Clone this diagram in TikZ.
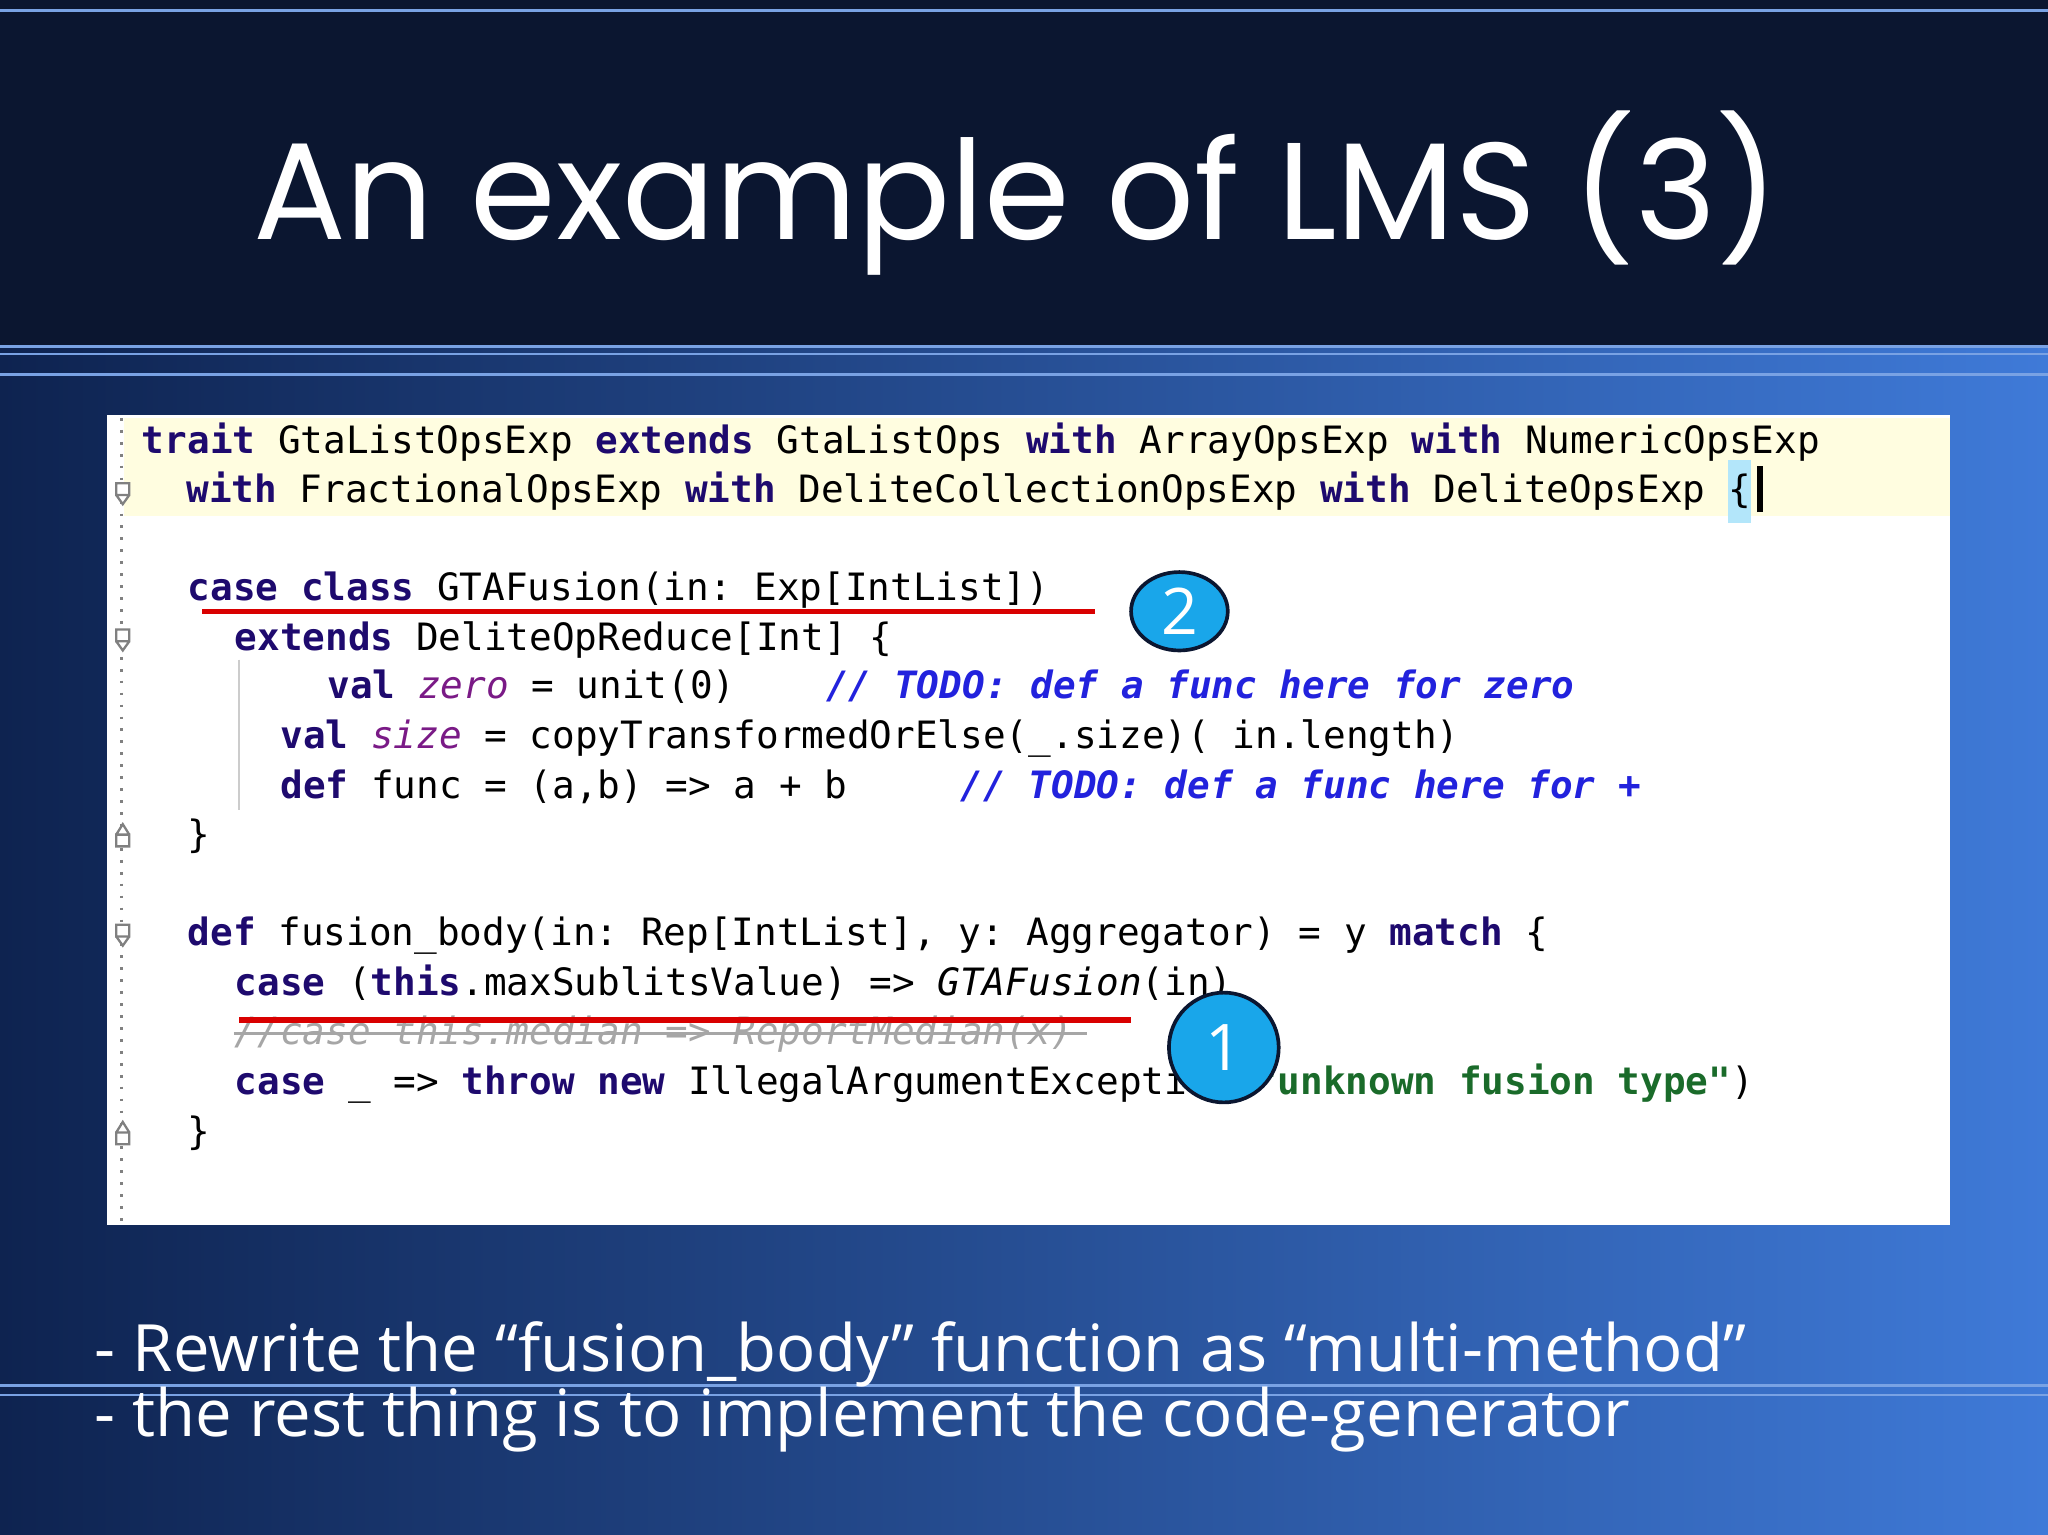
\documentclass[tikz,border=0pt]{standalone}
\usepackage{fontspec}
\setmainfont{Open Sans}
\newfontfamily\titlefont{Poppins}
\setmonofont{DejaVu Sans Mono}
\usetikzlibrary{shapes.geometric}
\definecolor{navy}{HTML}{0B1630}
\definecolor{bgdark}{HTML}{0E2350}
\definecolor{bglight}{HTML}{3F7AD8}
\definecolor{kw}{HTML}{1E0A6E}
\definecolor{ital}{HTML}{7A1A86}
\definecolor{cmt}{HTML}{2222DD}
\definecolor{str}{HTML}{1A6B2A}
\definecolor{bubble}{HTML}{19A6EA}
\newcommand{\kw}[1]{\textbf{\color{kw}#1}}
\newcommand{\itv}[1]{\textit{\color{ital}#1}}
\newcommand{\cm}[1]{\textbf{\textit{\color{cmt}#1}}}
\begin{document}
\begin{tikzpicture}[x=0.01cm,y=-0.01cm,
  code/.style={anchor=base west,inner sep=0,font=\ttfamily\fontsize{8.2pt}{9pt}\selectfont,text=black},
  bub/.style={circle,fill=bubble,draw=navy,line width=0.8pt,text=white,font=\fontsize{14pt}{16pt}\selectfont,inner sep=0,minimum size=0.72cm},
  fold/.style={draw=gray,line width=0.5pt,fill=white},
  redl/.style={draw=red!85!black,line width=1.2pt},
  bline/.style={draw=bglight!70!white,line width=0.6pt}]
\useasboundingbox (0,0) rectangle (1568,1175);
\shade[left color=bgdark,right color=bglight] (0,265) rectangle (1568,1175);
\fill[navy] (0,0) rectangle (1568,265);
\draw[bline] (0,8) -- (1568,8);
\draw[bline] (0,265) -- (1568,265);
\draw[bline] (0,271) -- (1568,271);
\draw[bline] (0,287) -- (1568,287);
\draw[bline] (0,1061) -- (1568,1061);
\draw[bline] (0,1068) -- (1568,1068);
\node[text=white,font=\titlefont\fontsize{30pt}{34pt}\selectfont] (title) at (778,148) {An example of LMS (3)};
% code box
\fill[white] (82,318) rectangle (1493,938);
\fill[yellow!12] (95,320) rectangle (1493,395);
\draw[gray,dotted,line width=0.6pt] (93,320) -- (93,938);
\draw[gray!40,line width=0.4pt] (183,505) -- (183,620);
\foreach \y in {378,490,716}{\draw[fold] (89,\y-8) rectangle (99,\y+1) -- (94,\y+8) -- (89,\y+1);}
\foreach \y in {640,868}{\draw[fold] (89,\y-1) rectangle (99,\y+8) (89,\y-1) -- (94,\y-9) -- (99,\y-1);}
\node[code] (l1) at (108,347) {\kw{trait} GtaListOpsExp \kw{extends} GtaListOps \kw{with} ArrayOpsExp \kw{with} NumericOpsExp};
\node[code] (l2) at (142,385) {\kw{with} FractionalOpsExp \kw{with} DeliteCollectionOpsExp \kw{with} DeliteOpsExp \colorbox{cyan!30}{\kern-3pt\{\kern-3pt}\,\rule[-2pt]{1.2pt}{10pt}};
\node[code] (l3) at (143,460) {\kw{case} \kw{class} GTAFusion(in: Exp[IntList])};
\node[code] (l4) at (179,498) {\kw{extends} DeliteOpReduce[Int] \{};
\node[code] (l5) at (250,535) {\kw{val} \itv{zero} = unit(0)\ \ \ \ \cm{// TODO: def a func here for zero}};
\node[code] (l6) at (214,573) {\kw{val} \itv{size} = copyTransformedOrElse(\_.size)( in.length)};
\node[code] (l7) at (214,611) {\kw{def} func = (a,b) => a + b\ \ \ \ \ \cm{// TODO: def a func here for +}};
\node[code] (l8) at (143,649) {\}};
\node[code] (l9) at (143,724) {\kw{def} fusion\_body(in: Rep[IntList], y: Aggregator) = y \kw{match} \{};
\node[code] (l10) at (179,762) {\kw{case} (\kw{this}.maxSublitsValue) => \textit{GTAFusion}(in)};
\node[code,text=gray!70] (l11) at (179,800) {\textit{//case this.median => ReportMedian(x)}};
\draw[gray!70,line width=0.6pt] (179,791) -- (832,791);
\node[code] (l12) at (179,838) {\kw{case} \_ => \kw{throw} \kw{new} IllegalArgumentException(\textbf{\color{str}"unknown fusion type"})};
\node[code] (l13) at (143,876) {\}};
\draw[redl] (155,468) -- (838,468);
\draw[redl] (183,781) -- (866,781);
\node[bub,minimum width=0.74cm,minimum height=0.6cm,ellipse] (b2) at (903,468) {2};
\node[bub,minimum size=0.84cm] (b1) at (937,802) {1};
% bottom text
\node[anchor=base west,text=white,font=\fontsize{14.2pt}{17pt}\selectfont,inner sep=0] (t1) at (72,1050) {- Rewrite the “fusion\_body” function as “multi-method”};
\node[anchor=base west,text=white,font=\fontsize{14.2pt}{17pt}\selectfont,inner sep=0] (t2) at (72,1100) {- the rest thing is to implement the code-generator};
\end{tikzpicture}
\end{document}
